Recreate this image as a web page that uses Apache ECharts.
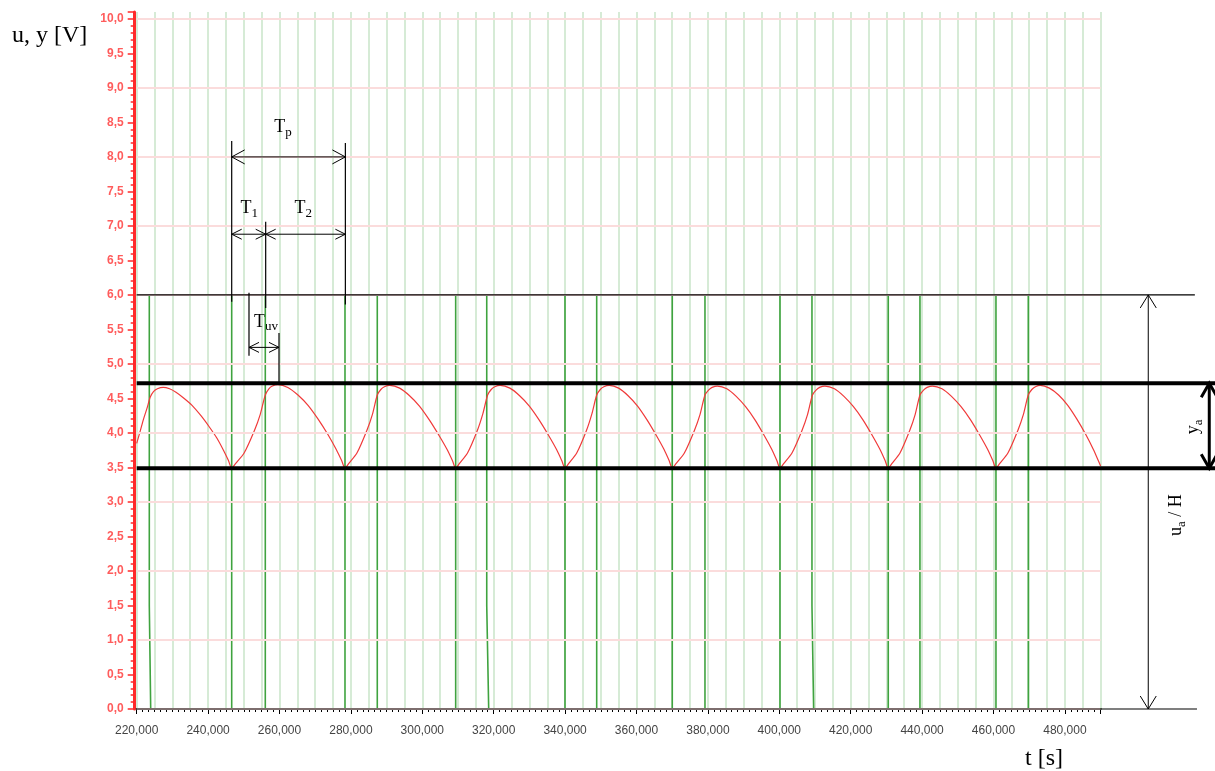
<!DOCTYPE html>
<html>
<head>
<meta charset="utf-8">
<script src="https://cdn.jsdelivr.net/npm/echarts@6/dist/echarts.min.js"></script>
<style>html,body{margin:0;padding:0;background:#fff}#c{width:1215px;height:771px}</style>
</head>
<body>
<div id="c"></div>
<script>
// ---- axis ranges / tick steps ----
const xMin = 220000, xMax = 490000, xLabelStep = 20000, xGridStep = 5000;
const yMin = 0, yMax = 10.1, yLabelStep = 0.5;
const yGridLevels = [0, 1, 2, 3, 4, 5, 6, 7, 8, 9, 10];

// ---- input signal u (green square wave) [t (s), V] ----
const uSignal = [
  [220000,6],[223530,6],[223530,1.5],[223920,1.5],[223920,0],
  [246610,0],[246610,6],[256020,6],[256020,0],
  [278345,0],[278345,6],[287390,6],[287390,0],
  [309350,0],[309350,6],[318050,6],[318050,1.5],[318600,1.5],[318600,0],
  [339970,0],[339970,6],[348850,6],[348850,0],
  [370020,0],[370020,6],[379180,6],[379180,0],
  [400190,0],[400190,6],[409150,6],[409150,1.5],[409620,1.5],[409620,0],
  [430520,0],[430520,6],[439400,6],[439400,0],
  [460690,0],[460690,6],[469740,6],[469740,0],[490000,0]
];

// ---- output signal y (red) [t (s), V] ----
const ySignal = [
  [220000,3.85],[221000,4.03],[221850,4.19],[222900,4.36],[223800,4.52],[224700,4.60],[225800,4.64],[227400,4.66],[229200,4.64],[231000,4.59],[233050,4.51],[235500,4.40],[238000,4.25],[240300,4.09],[242400,3.93],[244300,3.75],[245700,3.60],[246610,3.49],
  [247740,3.56],[250090,3.71],[253010,4.04],[254610,4.27],[256020,4.55],[257020,4.64],[258020,4.68],[259520,4.70],[262340,4.66],[265170,4.55],[267990,4.40],[270815,4.20],[273640,3.97],[275900,3.76],[277400,3.60],[278345,3.49],
  [279430,3.56],[281690,3.71],[284495,4.04],[286030,4.27],[287390,4.55],[288390,4.63],[289390,4.67],[290890,4.69],[293660,4.65],[296430,4.54],[299200,4.39],[301965,4.19],[304735,3.96],[306950,3.76],[308430,3.60],[309350,3.49],
  [310425,3.56],[312665,3.71],[315445,4.04],[316970,4.28],[318300,4.55],[319300,4.63],[320300,4.67],[321815,4.69],[324540,4.65],[327260,4.54],[329985,4.39],[332710,4.19],[335430,3.96],[337610,3.76],[339060,3.60],[339970,3.49],
  [341035,3.56],[343255,3.71],[346010,4.04],[347520,4.28],[348850,4.55],[349850,4.63],[350850,4.67],[352350,4.69],[355000,4.65],[357650,4.54],[360300,4.39],[362950,4.19],[365600,3.96],[367725,3.76],[369135,3.60],[370020,3.49],
  [371120,3.56],[373410,3.71],[376250,4.04],[377805,4.27],[379180,4.55],[380180,4.62],[381180,4.66],[382680,4.68],[385310,4.64],[387935,4.53],[390560,4.38],[393185,4.19],[395815,3.96],[397915,3.76],[399315,3.60],[400190,3.49],
  [401280,3.56],[403555,3.71],[406380,4.04],[407925,4.27],[409290,4.55],[410290,4.62],[411290,4.66],[412790,4.68],[415450,4.64],[418110,4.53],[420770,4.38],[423430,4.19],[426090,3.96],[428215,3.76],[429635,3.60],[430520,3.49],
  [431585,3.56],[433805,3.71],[436560,4.04],[438070,4.27],[439400,4.55],[440400,4.62],[441400,4.66],[442900,4.68],[445570,4.64],[448240,4.53],[450905,4.38],[453575,4.19],[456245,3.96],[458375,3.76],[459800,3.60],[460690,3.49],
  [461775,3.56],[464040,3.71],[466845,4.04],[468380,4.27],[469740,4.55],[470740,4.63],[471740,4.67],[473100,4.69],[475670,4.65],[478230,4.55],[480800,4.40],[483360,4.20],[485925,3.97],[487980,3.76],[489345,3.60],[490000,3.52]
];

// ---- annotation levels (V) and times (s) ----
const levelU = 6.0, levelYmax = 4.72, levelYmin = 3.49, levelZero = 0;
const tRise = 246610, tFall = 256130, tNextRise = 278450;
const tUvStart = 251455, tUvEnd = 259860;
const tArrowU = 503350, tArrowY = 520440;

const fmtX = v => (v / 1000).toFixed(3).replace('.', ',');
const fmtY = v => v.toFixed(1).replace('.', ',');

const option = {
  animation: false,
  backgroundColor: '#fff',
  textStyle: { fontFamily: 'Liberation Sans' },
  grid: { left: 136.7, right: 114.4, top: 12, bottom: 62, containLabel: false },
  xAxis: [
    {
      type: 'value', min: xMin, max: xMax, interval: xLabelStep, position: 'bottom', offset: 6,
      axisLine: { show: true, lineStyle: { color: '#000', width: 2 } },
      axisTick: { show: true, length: 5, lineStyle: { color: '#000', width: 1 } },
      minorTick: { show: true, splitNumber: 12, length: 3, lineStyle: { color: '#000', width: 1 } },
      axisLabel: { formatter: fmtX, color: '#444', fontSize: 12, margin: 10, fontFamily: 'Liberation Sans' },
      splitLine: { show: false }
    },
    {
      type: 'value', min: xMin, max: xMax, interval: xGridStep, position: 'top',
      axisLine: { show: false }, axisTick: { show: false }, axisLabel: { show: false },
      splitLine: { show: true, lineStyle: { color: '#d6ebd6', width: 2 } }
    }
  ],
  yAxis: [
    {
      type: 'value', min: yMin, max: yMax, interval: yLabelStep, position: 'left', offset: 2,
      axisLine: { show: true, lineStyle: { color: '#ff2a2a', width: 3 } },
      axisTick: { show: true, length: 7, lineStyle: { color: '#ff2a2a', width: 1.5 } },
      minorTick: { show: true, splitNumber: 5, length: 4, lineStyle: { color: '#ff2a2a', width: 1.5 } },
      axisLabel: { formatter: fmtY, color: '#ff5c5c', fontSize: 12, fontWeight: 'bold', margin: 11, showMaxLabel: false, fontFamily: 'Liberation Sans' },
      splitLine: { show: false },
      minorSplitLine: { show: false }
    }
  ],
  series: [
    {
      name: 'grid', type: 'line', xAxisIndex: 0, yAxisIndex: 0, data: [], z: 1, silent: true,
      markLine: {
        silent: true, symbol: ['none', 'none'], label: { show: false }, animation: false,
        lineStyle: { color: '#fbdcdc', width: 2, type: 'solid' },
        emphasis: { disabled: true },
        data: yGridLevels.map(v => ({ yAxis: v }))
      }
    },
    {
      name: 'u', type: 'line', xAxisIndex: 0, yAxisIndex: 0, data: uSignal,
      symbol: 'none', lineStyle: { color: '#3fa33f', width: 1.6 }, z: 3
    },
    {
      name: 'y', type: 'line', xAxisIndex: 0, yAxisIndex: 0, data: ySignal,
      symbol: 'none', smooth: 0.25, lineStyle: { color: '#f03a3a', width: 1.2 }, z: 4
    }
  ]
};

const chart = echarts.init(document.getElementById('c'), null, { renderer: 'canvas' });
chart.setOption(option);

// ---- annotations positioned through the chart's own scales ----
const P = (t, v) => chart.convertToPixel({ seriesIndex: 1 }, [t, v]);
const W = chart.getWidth();
const els = [];
const serif = 'Liberation Serif';
const ctx = document.createElement('canvas').getContext('2d');
const measure = (txt, size) => { ctx.font = size + 'px "' + serif + '"'; return ctx.measureText(txt).width; };

function seg(a, b, w, color) {
  els.push({ type: 'line', z: 100, shape: { x1: a[0], y1: a[1], x2: b[0], y2: b[1] }, style: { stroke: color || '#000', lineWidth: w } });
}
function head(p, dir, len, half, w) {
  let pts;
  if (dir === 'l') pts = [[p[0] + len, p[1] - half], [p[0], p[1]], [p[0] + len, p[1] + half]];
  if (dir === 'r') pts = [[p[0] - len, p[1] - half], [p[0], p[1]], [p[0] - len, p[1] + half]];
  if (dir === 'u') pts = [[p[0] - half, p[1] + len], [p[0], p[1]], [p[0] + half, p[1] + len]];
  if (dir === 'd') pts = [[p[0] - half, p[1] - len], [p[0], p[1]], [p[0] + half, p[1] - len]];
  els.push({ type: 'polyline', z: 100, shape: { points: pts }, style: { stroke: '#000', lineWidth: w, fill: null } });
}
function hArrow(t1, t2, v, len, half, w) {
  const a = P(t1, v), b = P(t2, v);
  seg(a, b, w); head(a, 'l', len, half, w); head(b, 'r', len, half, w);
}
function vArrow(t, vTop, vBot, len, half, w) {
  const a = P(t, vTop), b = P(t, vBot);
  seg(a, b, w); head(a, 'u', len, half, w); head(b, 'd', len, half, w);
}
function vLine(t, v1, v2, w) { seg(P(t, v1), P(t, v2), w); }

// pieces: [[text, isSub], ...]; centred at pixel c
function richLabel(c, pieces, size, rotation) {
  const subSize = Math.round(size * 0.72);
  let x = 0; const children = [];
  pieces.forEach(([txt, sub]) => {
    const s = sub ? subSize : size;
    children.push({ type: 'text', x: x, y: sub ? size * 0.28 : 0,
      style: { text: txt, fontSize: s, fontFamily: serif, fill: '#000', align: 'left', verticalAlign: 'middle' } });
    x += measure(txt, s);
  });
  children.forEach(ch => { ch.x -= x / 2; });
  els.push({ type: 'group', z: 100, x: c[0], y: c[1], rotation: rotation || 0, children: children });
}

// horizontal reference lines
seg(P(xMin, levelU), P(516400, levelU), 1.2);
seg(P(xMin, levelZero), P(517000, levelZero), 1.2);
seg(P(xMin, levelYmax), [W, P(xMin, levelYmax)[1]], 4);
seg(P(xMin, levelYmin), [W, P(xMin, levelYmin)[1]], 4);

// Tp, T1, T2
vLine(tRise, 8.23, 5.90, 1.2);
vLine(tNextRise, 8.20, 5.86, 1.2);
vLine(tFall, 7.06, 5.81, 1.2);
hArrow(tRise, tNextRise, 8.0, 13, 7, 1);
hArrow(tRise, tFall, 6.88, 10, 5, 1);
hArrow(tFall, tNextRise, 6.88, 10, 5, 1);

// Tuv
vLine(tUvStart, 6.03, 5.12, 1.2);
vLine(tUvEnd, 5.45, levelYmax, 1.2);
hArrow(tUvStart, tUvEnd, 5.24, 10, 5, 1);

// right side amplitude arrows
vArrow(tArrowU, levelU, levelZero, 13, 8, 1);
vArrow(tArrowY, levelYmax, levelYmin, 14, 8, 3);

// labels
richLabel(P(261000, 8.43), [['T', false], ['p', true]], 18);
richLabel(P(251510, 7.25), [['T', false], ['1', true]], 18);
richLabel(P(266630, 7.25), [['T', false], ['2', true]], 18);
richLabel(P(256240, 5.61), [['T', false], ['uv', true]], 18);
richLabel(P(515930, 4.09), [['y', false], ['a', true]], 18, Math.PI / 2);
richLabel(P(511160, 2.81), [['u', false], ['a', true], [' / H', false]], 18, Math.PI / 2);

// axis titles
els.push({ type: 'text', z: 100, x: 12, y: 36, style: { text: 'u, y [V]', fontSize: 24, fontFamily: serif, fill: '#000', align: 'left', verticalAlign: 'middle' } });
els.push({ type: 'text', z: 100, x: 1025, y: 759, style: { text: 't [s]', fontSize: 24, fontFamily: serif, fill: '#000', align: 'left', verticalAlign: 'middle' } });

chart.setOption({ graphic: els });
</script>
</body>
</html>
